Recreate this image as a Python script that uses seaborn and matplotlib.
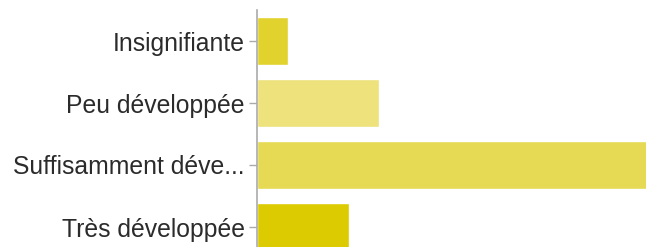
import matplotlib
matplotlib.use("Agg")
import matplotlib.pyplot as plt
import seaborn as sns
import pandas as pd

categories = ["Insignifiante", "Peu développée", "Suffisamment déve...", "Très développée"]
counts = [1, 4, 13, 3]
colors = ["#e2d22e", "#ede27b", "#e6da54", "#dccb00"]

df = pd.DataFrame({"categorie": categories, "nombre": counts})

sns.set_style("white")
plt.rcParams["font.family"] = ["Liberation Sans", "DejaVu Sans"]

fig = plt.figure(figsize=(6.46, 2.47), dpi=100)
ax = fig.add_axes([257 / 646, -11 / 247, 1 - 257 / 646, 248 / 247])

sns.barplot(data=df, y="categorie", x="nombre", hue="categorie", palette=colors,
            width=0.79, legend=False, ax=ax, saturation=1)

ax.set_xlim(0, 12.75)
ax.set_xlabel("")
ax.set_ylabel("")
ax.set_xticks([])
for s in ["top", "right", "bottom"]:
    ax.spines[s].set_visible(False)
ax.spines["left"].set_color("#aaaaaa")
ax.spines["left"].set_linewidth(1.2)
ax.tick_params(axis="y", length=6, color="#aaaaaa", width=1, pad=3,
               labelsize=17.8, labelcolor="#2b2b2b", left=True)

fig.savefig("out.png", dpi=100)
